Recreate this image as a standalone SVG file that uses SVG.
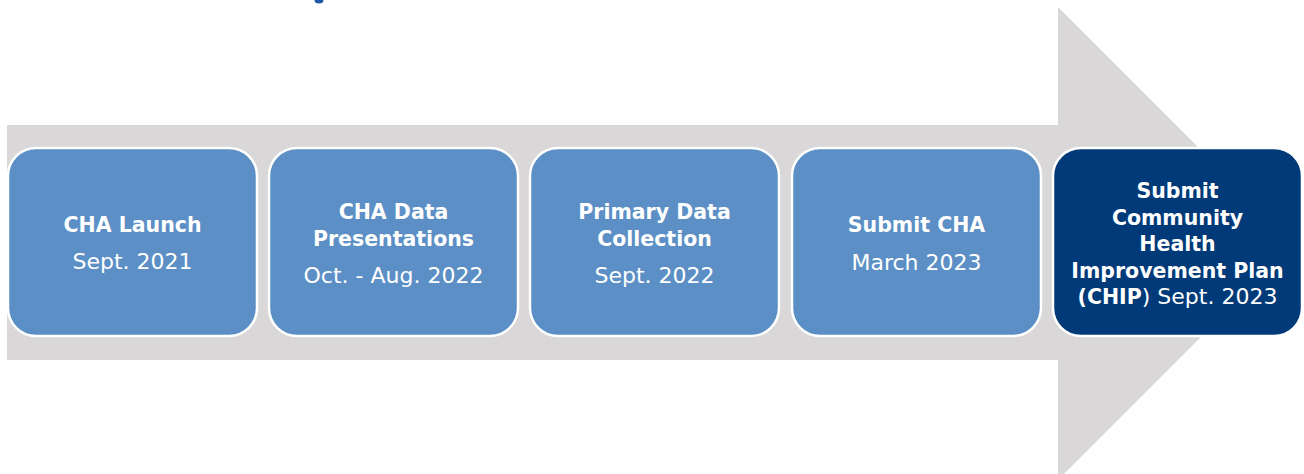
<svg xmlns="http://www.w3.org/2000/svg" width="1304" height="474" viewBox="0 0 1304 474">
  <style>
    .box { fill: #5B8FC5; stroke: #FFFFFF; stroke-width: 2.5; }
    .box.last { fill: #003A78; }
    text { font-family: "DejaVu Sans", "Liberation Sans", sans-serif; fill: #FFFFFF; text-anchor: middle; }
    .b { font-weight: bold; font-size: 20.5px; }
    .r { font-weight: normal; font-size: 22px; }
  </style>
  <rect width="1304" height="474" fill="#FFFFFF"/>
  <!-- fragment of the heading above, cut at the top edge -->
  <ellipse cx="319" cy="0" rx="4.5" ry="3.6" fill="#1E56A8"/>

  <g id="connectors">
    <!-- timeline arrow behind the milestones -->
    <polygon points="7,125 1058,125 1058,7 1294.5,243.5 1058,480 1058,360 7,360" fill="#D9D7D8"/>
  </g>

  <g id="node-cha-launch">
    <rect class="box" x="8" y="148" width="249" height="188" rx="28" ry="28"/>
    <text class="b" x="132.5" y="232">CHA Launch</text>
    <text class="r" x="132.5" y="268.5">Sept. 2021</text>
  </g>

  <g id="node-cha-data">
    <rect class="box" x="269" y="148" width="249" height="188" rx="28" ry="28"/>
    <text class="b" x="393.5" y="219">CHA Data</text>
    <text class="b" x="393.5" y="246">Presentations</text>
    <text class="r" x="393.5" y="283">Oct. - Aug. 2022</text>
  </g>

  <g id="node-primary-data">
    <rect class="box" x="530" y="148" width="249" height="188" rx="28" ry="28"/>
    <text class="b" x="654.5" y="219">Primary Data</text>
    <text class="b" x="654.5" y="246">Collection</text>
    <text class="r" x="654.5" y="283">Sept. 2022</text>
  </g>

  <g id="node-submit-cha">
    <rect class="box" x="792" y="148" width="249" height="188" rx="28" ry="28"/>
    <text class="b" x="916.5" y="231.5">Submit CHA</text>
    <text class="r" x="916.5" y="269.5">March 2023</text>
  </g>

  <g id="node-chip">
    <rect class="box last" x="1053" y="148" width="249" height="188" rx="28" ry="28"/>
    <text class="b" x="1177.5" y="198">Submit</text>
    <text class="b" x="1177.5" y="224.5">Community</text>
    <text class="b" x="1177.5" y="251">Health</text>
    <text class="b" x="1177.5" y="277.5">Improvement Plan</text>
    <text x="1177.5" y="303.5"><tspan class="b">(CHIP</tspan><tspan class="r">) Sept. 2023</tspan></text>
  </g>
</svg>
